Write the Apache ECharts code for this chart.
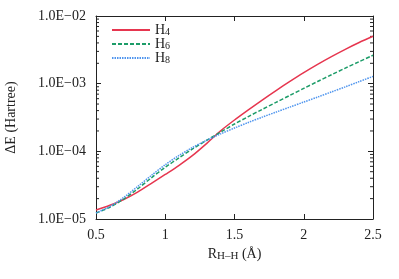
<!DOCTYPE html>
<html>
<head>
<meta charset="utf-8">
<script src="https://cdn.jsdelivr.net/npm/echarts@6/dist/echarts.min.js"></script>
<style>
html,body{margin:0;padding:0;background:#fff;}
#c{width:399px;height:279px;}
</style>
</head>
<body>
<div id="c"></div>
<script>
// Data
var rValues = [0.5,0.6,0.7,0.8,0.9,1.0,1.1,1.2,1.3,1.4,1.5,1.6,1.7,1.8,1.9,2.0,2.1,2.2,2.3,2.4,2.5];
var h4 = [1.358e-5,1.596e-5,1.941e-5,2.50e-5,3.357e-5,4.55e-5,6.21e-5,8.77e-5,1.312e-4,2.01e-4,2.904e-4,4.10e-4,5.73e-4,7.91e-4,1.079e-3,1.455e-3,1.928e-3,2.512e-3,3.22e-3,4.055e-3,5.01e-3];
var h6 = [1.227e-5,1.493e-5,1.968e-5,2.780e-5,4.064e-5,5.81e-5,8.02e-5,1.094e-4,1.459e-4,1.923e-4,2.535e-4,3.266e-4,4.169e-4,5.297e-4,6.714e-4,8.511e-4,1.076e-3,1.355e-3,1.698e-3,2.118e-3,2.630e-3];
var h8 = [1.227e-5,1.528e-5,2.084e-5,3.013e-5,4.406e-5,6.34e-5,8.71e-5,1.148e-4,1.462e-4,1.811e-4,2.213e-4,2.673e-4,3.199e-4,3.802e-4,4.508e-4,5.346e-4,6.339e-4,7.534e-4,8.974e-4,1.072e-3,1.282e-3];
var seriesNames = ['H4','H6','H8'];
var xTickLabels = ['0.5','1','1.5','2','2.5'];
var yTickLabels = ['1.0E\u221205','1.0E\u221204','1.0E\u221203','1.0E\u221202'];
var yTickValues = [1e-5,1e-4,1e-3,1e-2];
var minorTickValues = [];
[1e-5,1e-4,1e-3].forEach(function(d){for(var k=2;k<=9;k++){minorTickValues.push(k*d);}});

var FONT = 'Liberation Serif';
var TXT = '#222';
var colors = ['#e6364f','#1c9c68','#4f95ee'];

function pairs(arr){return rValues.map(function(r,i){return [r,arr[i]];});}

var chart = echarts.init(document.getElementById('c'));
var axisLineStyle = {color:'#222', width:1};
var option = {
  backgroundColor:'#fff',
  animation:false,
  grid:{left:96,right:26,top:16,bottom:60,containLabel:false,outerBoundsMode:'none'},
  legend:{
    data:seriesNames,
    orient:'vertical',
    left:106, top:18,
    itemWidth:38, itemHeight:10, itemGap:0,
    itemStyle:{opacity:0},
    formatter:function(n){return '{b|H}{s|'+n.slice(1)+'}';},
    textStyle:{
      fontFamily:FONT, color:TXT, fontSize:14,
      rich:{
        b:{fontFamily:FONT,fontSize:14,color:TXT,lineHeight:14},
        s:{fontFamily:FONT,fontSize:10,color:TXT,verticalAlign:'bottom',lineHeight:6}
      }
    }
  },
  xAxis:[{
    type:'value', min:0.5, max:2.5, interval:0.5,
    axisLine:{lineStyle:axisLineStyle},
    axisTick:{inside:true,length:5,lineStyle:axisLineStyle},
    splitLine:{show:false},
    axisLabel:{fontFamily:FONT,fontSize:14,color:TXT,margin:9,
      formatter:function(v){var i=Math.round((v-0.5)/0.5);return xTickLabels[i];}},
    name:'{r|R}{s|H\u2013H}{r| (\u00c5)}',
    nameLocation:'middle', nameGap:25,
    nameTextStyle:{fontFamily:FONT,fontSize:14,color:TXT,
      rich:{
        r:{fontFamily:FONT,fontSize:14,color:TXT,lineHeight:16},
        s:{fontFamily:FONT,fontSize:11,color:TXT,verticalAlign:'bottom',lineHeight:6}
      }}
  },{
    type:'value', min:0.5, max:2.5, interval:0.5, position:'top',
    axisLine:{lineStyle:axisLineStyle},
    axisTick:{inside:true,length:5,lineStyle:axisLineStyle},
    axisLabel:{show:false}, splitLine:{show:false}
  }],
  yAxis:[{
    type:'log', logBase:10, min:1e-5, max:1e-2,
    axisLine:{show:true,lineStyle:axisLineStyle},
    axisTick:{show:true,inside:true,length:5,lineStyle:axisLineStyle},
    splitLine:{show:false},
    axisLabel:{fontFamily:FONT,fontSize:14,color:TXT,margin:10,
      formatter:function(v){
        for(var i=0;i<yTickValues.length;i++){if(Math.abs(Math.log10(v)-Math.log10(yTickValues[i]))<1e-6)return yTickLabels[i];}
        return '';
      }},
    name:'\u0394E (Hartree)',
    nameLocation:'middle', nameGap:78,
    nameTextStyle:{fontFamily:FONT,fontSize:14,color:TXT}
  },{
    type:'log', logBase:10, min:1e-5, max:1e-2, position:'right',
    axisLine:{show:true,lineStyle:axisLineStyle},
    axisTick:{show:true,inside:true,length:5,lineStyle:axisLineStyle},
    axisLabel:{show:false}, splitLine:{show:false}
  }],
  series:[
    {name:'H4',type:'line',data:pairs(h4),smooth:0.3,symbol:'none',
      lineStyle:{color:colors[0],width:1.5,type:'solid'},itemStyle:{color:colors[0]}},
    {name:'H6',type:'line',data:pairs(h6),smooth:0.3,symbol:'none',
      lineStyle:{color:colors[1],width:1.5,type:[4,2]},itemStyle:{color:colors[1]}},
    {name:'H8',type:'line',data:pairs(h8),smooth:0.3,symbol:'none',
      lineStyle:{color:colors[2],width:1.5,type:[1.5,1]},itemStyle:{color:colors[2]}},
    {name:'minor',type:'custom',silent:true,
      data:minorTickValues.map(function(v){return [0.5,v];}),
      renderItem:function(params,api){
        var v=api.value(1);
        var pl=api.coord([0.5,v]);
        var pr=api.coord([2.5,v]);
        return {type:'group',children:[
          {type:'line',shape:{x1:pl[0],y1:pl[1],x2:pl[0]+3,y2:pl[1]},style:{stroke:'#222',lineWidth:1}},
          {type:'line',shape:{x1:pr[0]-3,y1:pr[1],x2:pr[0],y2:pr[1]},style:{stroke:'#222',lineWidth:1}}
        ]};
      }}
  ]
};
chart.setOption(option);
</script>
</body>
</html>
